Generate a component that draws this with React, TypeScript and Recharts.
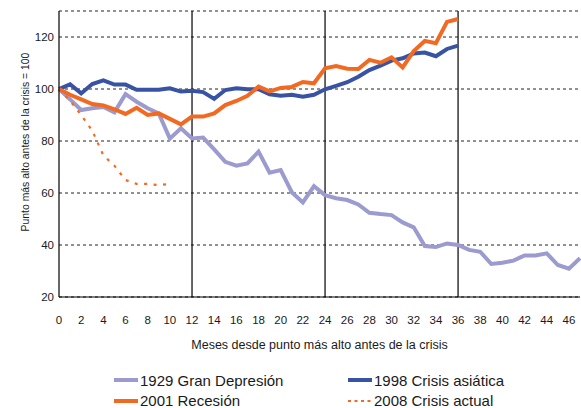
import React from 'react';
import { LineChart, Line, XAxis, YAxis, CartesianGrid, ReferenceLine, Legend } from 'recharts';

const months: number[] = Array.from({ length: 48 }, (_, i) => i);
const xTicks: number[] = [0, 2, 4, 6, 8, 10, 12, 14, 16, 18, 20, 22, 24, 26, 28, 30, 32, 34, 36, 38, 40, 42, 44, 46];
const yTicks: number[] = [20, 40, 60, 80, 100, 120];
const yearMarks: number[] = [12, 24, 36];

const gd1929: number[] = [100, 96, 91.9, 92.6, 93.1, 91, 98, 95.1, 92.6, 90.6, 80.9, 84.9, 81, 81.3, 76.8, 72, 70.5, 71.4, 75.9, 67.8, 68.8, 60.3, 56.4, 62.6, 59.2, 58, 57.3, 55.6, 52.4, 51.9, 51.5, 48.7, 46.8, 39.6, 39.2, 40.6, 40, 38.1, 37.4, 32.7, 33.2, 34, 36, 36, 36.8, 32.3, 30.9, 34.9];
const asia1998: number[] = [100, 101.8, 98.3, 101.9, 103.3, 101.7, 101.7, 99.7, 99.7, 99.7, 100.3, 99, 99.3, 98.8, 96.2, 99.6, 100.3, 99.9, 99.9, 98, 97.4, 97.8, 97, 97.8, 99.9, 101.2, 102.6, 104.7, 107.3, 109, 110.9, 111.8, 113.7, 114, 112.6, 115.4, 116.7];
const rec2001: number[] = [100, 97.8, 96, 94.2, 93.7, 92.2, 90.4, 92.8, 90, 90.6, 88.5, 86.4, 89.4, 89.4, 90.6, 93.8, 95.4, 97.4, 100.9, 99.1, 100.4, 100.8, 102.7, 102.2, 108, 108.8, 107.8, 107.7, 111.2, 110.1, 112.2, 108.3, 114.6, 118.5, 117.6, 125.8, 126.9];
const crisis2008: number[] = [100, 95.5, 90, 84, 74.5, 70.5, 65, 63.5, 63.5, 63, 63.5];

const seriesNames = {
  gd: '1929 Gran Depresión',
  asia: '1998 Crisis asiática',
  rec: '2001 Recesión',
  cur: '2008 Crisis actual',
};

const colors = {
  gd: '#9b9bd0',
  asia: '#3853a4',
  rec: '#f26a22',
  cur: '#f26a22',
};

const data = months.map((m) => ({
  m,
  gd: gd1929[m] ?? null,
  asia: asia1998[m] ?? null,
  rec: rec2001[m] ?? null,
  cur: crisis2008[m] ?? null,
}));

const FONT = '"Liberation Sans", Arial, Helvetica, sans-serif';

const legendItems = [
  { key: 'gd', col: 0, row: 0, dashed: false },
  { key: 'asia', col: 1, row: 0, dashed: false },
  { key: 'rec', col: 0, row: 1, dashed: false },
  { key: 'cur', col: 1, row: 1, dashed: true },
] as const;

const LegendContent = () => (
  <div style={{ position: 'relative', width: 581, height: 39, fontFamily: FONT, fontSize: 15, lineHeight: '13px', color: '#1a1a1a' }}>
    {legendItems.map((it) => (
      <div
        key={it.key}
        style={{
          position: 'absolute',
          left: it.col === 0 ? 114 : 348,
          top: it.row === 0 ? 5.5 : 26,
          height: 13,
          display: 'flex',
          alignItems: 'center',
          whiteSpace: 'nowrap',
        }}
      >
        <svg width={24} height={6} style={{ marginRight: 2 }}>
          <line
            x1={0}
            y1={3}
            x2={24}
            y2={3}
            stroke={(colors as any)[it.key]}
            strokeWidth={it.dashed ? 2.2 : 4}
            strokeDasharray={it.dashed ? '3 3.5' : undefined}
          />
        </svg>
        <span>{(seriesNames as any)[it.key]}</span>
      </div>
    ))}
  </div>
);

const YLabel = () => (
  <text
    x={25}
    y={142}
    transform="rotate(-90 25 142)"
    textAnchor="middle"
    dominantBaseline="central"
    fontFamily={FONT}
    fontSize={10.4}
    fill="#1a1a1a"
  >
    Punto más alto antes de la crisis = 100
  </text>
);

export default function App() {
  return (
    <div style={{ position: 'absolute', left: 0, top: 0, width: 581, height: 408, background: '#fff' }}>
      <LineChart width={581} height={408} data={data} margin={{ top: 11, right: 1, left: 0, bottom: 51 }}>
        <CartesianGrid vertical={false} stroke="#222" strokeDasharray="3 3" strokeWidth={1} />
        <XAxis
          dataKey="m"
          type="number"
          domain={[0, 47]}
          ticks={xTicks}
          interval={0}
          tickLine={false}
          tickSize={0}
          tickMargin={19}
          height={60}
          axisLine={{ stroke: '#000', strokeWidth: 1.2 }}
          tick={{ fontFamily: FONT, fontSize: 11.5, fill: '#1a1a1a' }}
          label={{
            value: 'Meses desde punto más alto antes de la crisis',
            position: 'insideBottom',
            offset: 8,
            style: { fontFamily: FONT, fontSize: 12.5, fill: '#1a1a1a' },
          }}
        />
        <YAxis
          type="number"
          domain={[20, 130]}
          ticks={yTicks}
          interval={0}
          width={59}
          tickLine={false}
          tickSize={0}
          tickMargin={5}
          axisLine={{ stroke: '#000', strokeWidth: 1.2 }}
          tick={{ fontFamily: FONT, fontSize: 11.5, fill: '#1a1a1a' }}
          label={{ content: () => <YLabel /> }}
        />
        {yearMarks.map((x) => (
          <ReferenceLine key={x} x={x} stroke="#000" strokeWidth={1.2} />
        ))}
        <Legend
          layout="horizontal"
          verticalAlign="middle"
          align="center"
          wrapperStyle={{ left: 0, top: 368, width: 581, height: 39 }}
          content={() => <LegendContent />}
        />
        <Line dataKey="gd" name={seriesNames.gd} stroke={colors.gd} strokeWidth={4} dot={false} isAnimationActive={false} />
        <Line dataKey="asia" name={seriesNames.asia} stroke={colors.asia} strokeWidth={4} dot={false} isAnimationActive={false} />
        <Line dataKey="rec" name={seriesNames.rec} stroke={colors.rec} strokeWidth={4} dot={false} isAnimationActive={false} />
        <Line
          dataKey="cur"
          name={seriesNames.cur}
          stroke={colors.cur}
          strokeWidth={2.2}
          strokeDasharray="3 6.5"
          dot={false}
          isAnimationActive={false}
        />
      </LineChart>
    </div>
  );
}
